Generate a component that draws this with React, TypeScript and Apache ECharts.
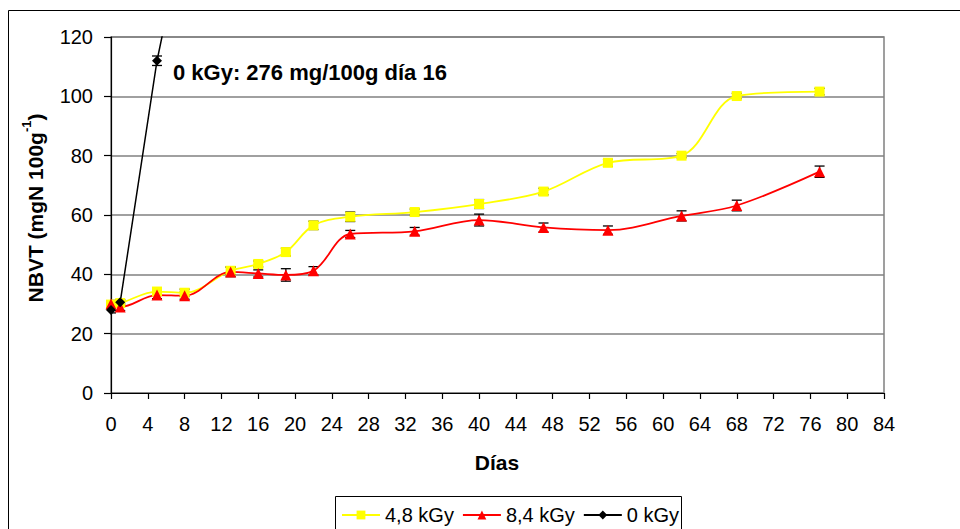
import React, { useEffect, useRef } from "react";
import * as echarts from "echarts";

// Sampling days for the irradiated batches
const days = [0, 1, 5, 8, 13, 16, 19, 22, 26, 33, 40, 47, 54, 62, 68, 77];
// NBVT (mgN/100 g), 4,8 kGy
const kGy48 = [29.8, 30.3, 34.2, 33.8, 41.2, 43.5, 47.5, 56.5, 59.4, 61.0, 63.7, 67.9, 77.6, 80.0, 100.1, 101.6];
const kGy48Err = [1.2, 1.0, 1.2, 1.2, 1.3, 1.0, 1.3, 1.4, 1.6, 1.0, 1.5, 1.1, 1.2, 0.7, 0.9, 1.1];
// NBVT (mgN/100 g), 8,4 kGy
const kGy84 = [30.0, 29.0, 33.0, 32.8, 40.8, 40.3, 39.8, 41.2, 53.6, 54.5, 58.3, 55.8, 54.9, 59.7, 63.2, 74.6];
const kGy84Err = [1.2, 1.2, 1.2, 1.2, 1.6, 1.2, 2.1, 1.4, 1.2, 1.3, 2.0, 1.5, 1.4, 1.7, 1.8, 1.9];
// Non-irradiated control
const daysControl = [0, 1, 5, 16];
const kGy0 = [28.0, 30.6, 112.0, 276];
const kGy0Err = [1.0, 0.8, 1.6, 0];

const xTicks = { min: 0, max: 84, interval: 4 };
const yTicks = { min: 0, max: 120, interval: 20 };

const FONT = "'Liberation Sans', Arial, sans-serif";

const pairs = (xs: number[], ys: number[]) => xs.map((x, i) => [x, ys[i]]);
const triples = (xs: number[], ys: number[], es: number[]) =>
  xs.map((x, i) => [x, ys[i], es[i]]).filter((d) => d[1] <= yTicks.max);

const errorBarSeries = (data: number[][]) => ({
  type: "custom",
  z: 2,
  silent: true,
  clip: true,
  encode: { x: 0, y: 1 },
  data,
  renderItem: (_params: any, api: any) => {
    const x = api.value(0);
    const y = api.value(1);
    const e = api.value(2);
    const top = api.coord([x, y + e]);
    const bot = api.coord([x, y - e]);
    const w = 5;
    const st = { stroke: "#000", lineWidth: 1.3 };
    return {
      type: "group",
      children: [
        { type: "line", shape: { x1: top[0], y1: top[1], x2: bot[0], y2: bot[1] }, style: st },
        { type: "line", shape: { x1: top[0] - w, y1: top[1], x2: top[0] + w, y2: top[1] }, style: st },
        { type: "line", shape: { x1: bot[0] - w, y1: bot[1], x2: bot[0] + w, y2: bot[1] }, style: st },
      ],
    };
  },
});

export default function App() {
  const ref = useRef<HTMLDivElement>(null);

  useEffect(() => {
    if (!ref.current) return;
    const chart = echarts.init(ref.current, undefined, { renderer: "svg" });
    chart.setOption({
      animation: false,
      backgroundColor: "#fff",
      textStyle: { fontFamily: FONT },
      grid: {
        left: 111,
        right: 76,
        top: 37,
        bottom: 136,
        show: true,
        borderColor: "#808080",
        borderWidth: 1.5,
        backgroundColor: "transparent",
      },
      xAxis: {
        type: "value",
        min: xTicks.min,
        max: xTicks.max,
        interval: xTicks.interval,
        axisLine: { show: true, onZero: false, lineStyle: { color: "#000", width: 1.2 } },
        axisTick: { show: true, inside: false, length: 6, lineStyle: { color: "#000", width: 1.2 } },
        axisLabel: { fontSize: 20, color: "#000", margin: 21, fontFamily: FONT },
        splitLine: { show: false },
      },
      yAxis: {
        type: "value",
        min: yTicks.min,
        max: yTicks.max,
        interval: yTicks.interval,
        axisLine: { show: true, lineStyle: { color: "#000", width: 1.2 } },
        axisTick: { show: true, inside: false, length: 7, lineStyle: { color: "#000", width: 1.2 } },
        axisLabel: { fontSize: 20, color: "#000", margin: 18, fontFamily: FONT },
        splitLine: { show: true, lineStyle: { color: "#808080", width: 1.5 } },
      },
      legend: {
        show: true,
        left: 341,
        top: 505,
        padding: 0,
        itemWidth: 38,
        itemHeight: 11,
        itemGap: 8,
        textStyle: { fontSize: 20, color: "#000", fontFamily: FONT },
        data: ["4,8 kGy", "8,4 kGy", "0 kGy"],
      },
      graphic: [
        {
          type: "rect",
          silent: true,
          z: -10,
          shape: { x: 8.5, y: 10.5, width: 1000, height: 700 },
          style: { fill: "none", stroke: "#000", lineWidth: 1 },
        },
        {
          type: "rect",
          silent: true,
          shape: { x: 335.5, y: 496.5, width: 346, height: 100 },
          style: { fill: "none", stroke: "#000", lineWidth: 1 },
        },
        {
          type: "text",
          silent: true,
          x: 497,
          y: 462,
          style: {
            text: "Días",
            fontSize: 21,
            fontWeight: "bold",
            fontFamily: FONT,
            fill: "#000",
            align: "center",
            verticalAlign: "middle",
          },
        },
        {
          type: "text",
          silent: true,
          x: 33,
          y: 208,
          rotation: Math.PI / 2,
          style: {
            text: "{a|NBVT (mgN 100g}{s|-1}{a|)}",
            fontFamily: FONT,
            fill: "#000",
            align: "center",
            verticalAlign: "middle",
            rich: {
              a: { fontSize: 21, fontWeight: "bold", fontFamily: FONT, fill: "#000", lineHeight: 26, verticalAlign: "bottom" },
              s: { fontSize: 13, fontWeight: "bold", fontFamily: FONT, fill: "#000", lineHeight: 26, verticalAlign: "top" },
            },
          },
        },
        {
          type: "text",
          silent: true,
          x: 173,
          y: 72,
          style: {
            text: `0 kGy: ${kGy0[3]} mg/100g día ${daysControl[3]}`,
            fontSize: 22,
            fontWeight: "bold",
            fontFamily: FONT,
            fill: "#000",
            align: "left",
            verticalAlign: "middle",
          },
        },
      ],
      series: [
        errorBarSeries(triples(days, kGy48, kGy48Err)),
        errorBarSeries(triples(days, kGy84, kGy84Err)),
        errorBarSeries(triples(daysControl, kGy0, kGy0Err)),
        {
          name: "4,8 kGy",
          type: "line",
          z: 3,
          smooth: 0.35,
          clip: true,
          data: pairs(days, kGy48),
          symbol: "rect",
          symbolSize: 10,
          itemStyle: { color: "#FFFF00" },
          lineStyle: { color: "#FFFF00", width: 1.8 },
        },
        {
          name: "8,4 kGy",
          type: "line",
          z: 3,
          smooth: 0.35,
          clip: true,
          data: pairs(days, kGy84),
          symbol: "triangle",
          symbolSize: 11,
          itemStyle: { color: "#FF0000" },
          lineStyle: { color: "#FF0000", width: 1.8 },
        },
        {
          name: "0 kGy",
          type: "line",
          z: 3,
          smooth: false,
          clip: true,
          data: pairs(daysControl, kGy0),
          symbol: "diamond",
          symbolSize: 10,
          itemStyle: { color: "#000" },
          lineStyle: { color: "#000", width: 1.5 },
        },
      ],
    });
    return () => chart.dispose();
  }, []);

  return (
    <div
      ref={ref}
      style={{ position: "fixed", left: 0, top: 0, width: 960, height: 529, background: "#fff" }}
    />
  );
}
